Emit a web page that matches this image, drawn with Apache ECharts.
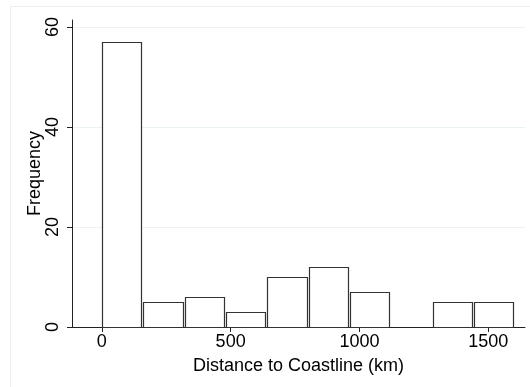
<!DOCTYPE html>
<html>
<head>
<meta charset="utf-8">
<script src="https://cdn.jsdelivr.net/npm/echarts@6/dist/echarts.min.js"></script>
<style>
  html, body { margin: 0; padding: 0; background: #fff; }
  #main { width: 530px; height: 387px; }
</style>
</head>
<body>
<div id="main"></div>
<script>
// histogram bins (km) and counts
var binEdges = [0, 160.5, 321, 481.5, 642, 802.5, 963, 1123.5, 1284, 1444.5, 1605];
var counts = [57, 5, 6, 3, 10, 12, 7, 0, 5, 5];
var xTicks = [0, 500, 1000, 1500];
var yTicks = [0, 20, 40, 60];

var bins = [];
for (var i = 0; i < counts.length; i++) {
  bins.push([binEdges[i], binEdges[i + 1], counts[i]]);
}

var chart = echarts.init(document.getElementById('main'));
var font = 'Liberation Sans, Arial, sans-serif';

chart.setOption({
  animation: false,
  backgroundColor: '#fff',
  graphic: [{
    type: 'rect',
    shape: { x: 10.5, y: 6.5, width: 600, height: 500 },
    style: { fill: 'none', stroke: '#eeeeee', lineWidth: 1 },
    silent: true
  }],
  grid: { left: 72, right: 5, top: 20, bottom: 60 },
  xAxis: {
    type: 'value',
    min: -116,
    max: 1643,
    name: 'Distance to Coastline (km)',
    nameLocation: 'middle',
    nameGap: 30,
    nameMoveOverlap: false,
    nameTextStyle: { fontFamily: font, fontSize: 18, color: '#000' },
    axisLine: { show: true, onZero: false, lineStyle: { color: '#222', width: 1 } },
    axisTick: { show: true, length: 5, customValues: xTicks, lineStyle: { color: '#222' } },
    axisLabel: {
      customValues: xTicks, margin: 6, fontFamily: font, fontSize: 18, color: '#000',
      formatter: function (v) { return String(v); }
    },
    splitLine: { show: false }
  },
  yAxis: {
    type: 'value',
    min: 0,
    max: 61.4,
    name: 'Frequency',
    nameLocation: 'middle',
    nameGap: 28,
    nameMoveOverlap: false,
    nameTextStyle: { fontFamily: font, fontSize: 18, color: '#000' },
    axisLine: { show: true, onZero: false, lineStyle: { color: '#222', width: 1 } },
    axisTick: { show: true, length: 5, customValues: yTicks, lineStyle: { color: '#222' } },
    axisLabel: {
      customValues: yTicks, rotate: 90, margin: 10, fontFamily: font, fontSize: 18, color: '#000',
      formatter: function (v) { return String(v); }
    },
    splitLine: { show: true, lineStyle: { color: '#eaf2f3', width: 1 } }
  },
  series: [{
    type: 'custom',
    data: bins,
    encode: { x: [0, 1], y: 2 },
    renderItem: function (params, api) {
      if (api.value(2) <= 0) return null;
      var p0 = api.coord([api.value(0), api.value(2)]);
      var p1 = api.coord([api.value(1), 0]);
      return {
        type: 'rect',
        shape: {
          x: Math.round(p0[0]) + 0.5,
          y: Math.round(p0[1]) + 0.5,
          width: Math.round(p1[0]) - Math.round(p0[0]) - 2,
          height: Math.round(p1[1]) - Math.round(p0[1])
        },
        style: { fill: '#fff', stroke: '#333', lineWidth: 1.2 }
      };
    }
  }]
});
</script>
</body>
</html>
